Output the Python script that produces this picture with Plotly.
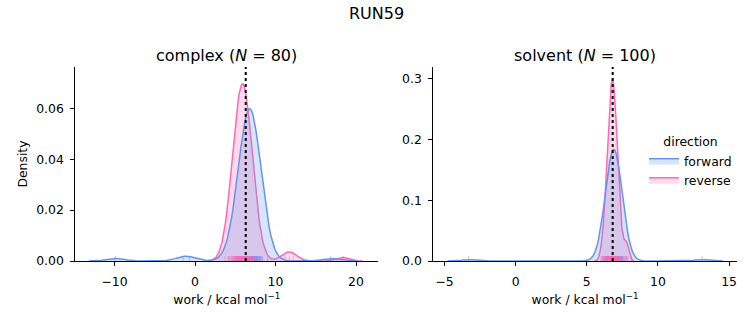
import numpy as np
import plotly.graph_objects as go

# ---------------- data (work values in kcal/mol, with multiplicities) ----------------
complex_forward_work = [-9.9, -1.5, -0.7, 4.2, 5.0, 5.2, 5.4, 5.6, 5.8, 6.0, 6.2, 6.4, 6.6,
                        6.8, 7.0, 7.2, 7.4, 7.6, 7.8, 8.0, 8.2, 8.4, 9.0, 16.8]
complex_forward_count = [1, 1, 1, 1, 1, 1, 2, 3, 4, 5, 6, 6, 7,
                         6, 6, 6, 6, 5, 4, 3, 2, 1, 1, 1]

complex_reverse_work = [3.7, 4.1, 4.3, 4.5, 4.7, 4.9, 5.1, 5.3, 5.5, 5.7, 5.9, 6.1, 6.3,
                        6.5, 6.7, 6.9, 7.1, 7.3, 7.5, 7.7, 8.1, 11.2, 11.7, 12.2, 18.4]
complex_reverse_count = [1, 1, 1, 2, 3, 4, 5, 5, 6, 6, 8, 6, 6,
                         5, 5, 4, 3, 2, 1, 1, 1, 1, 1, 1, 1]

solvent_forward_work = [-3.3, 6.1, 6.2, 6.3, 6.4, 6.5, 6.6, 6.7, 6.8, 6.9, 7.0, 7.1, 7.2,
                        7.3, 7.4, 7.5, 7.6, 7.7, 13.1]
solvent_forward_count = [1, 1, 1, 2, 4, 6, 8, 10, 11, 12, 11, 10, 8,
                         6, 4, 2, 1, 1, 1]

solvent_reverse_work = [6.0, 6.1, 6.2, 6.3, 6.4, 6.5, 6.6, 6.7, 6.8, 6.9, 7.0, 7.1, 7.2,
                        7.3, 7.4, 7.5, 7.6, 7.7, 7.8, 7.9]
solvent_reverse_count = [1, 1, 2, 4, 5, 8, 10, 11, 12, 11, 10, 8, 5,
                         4, 2, 1, 1, 1, 2, 1]

phase_names = ["complex", "solvent"]
phase_n = [80, 100]
phase_dg = [6.3, 6.82]          # free-energy estimate (dotted line)
direction_names = ["forward", "reverse"]
suptitle = "RUN59"

x_ticks = [[-10, 0, 10, 20], [-5, 0, 5, 10, 15]]
y_ticks = [[0.0, 0.02, 0.04, 0.06], [0.0, 0.1, 0.2, 0.3]]
y_tickformat = [".2f", ".1f"]
x_range = [[-14.87, 22.77], [-5.79, 15.54]]
y_range = [[0, 0.0763], [0, 0.319]]

# ---------------- helpers ----------------
line_colors = {"forward": "rgb(100,149,237)", "reverse": "rgb(255,105,180)"}
fill_colors = {"forward": "rgba(100,149,237,0.25)", "reverse": "rgba(255,105,180,0.25)"}
rug_colors = {"forward": "rgba(100,149,237,0.55)", "reverse": "rgba(255,105,180,0.55)"}

data = {
    ("complex", "forward"): (complex_forward_work, complex_forward_count),
    ("complex", "reverse"): (complex_reverse_work, complex_reverse_count),
    ("solvent", "forward"): (solvent_forward_work, solvent_forward_count),
    ("solvent", "reverse"): (solvent_reverse_work, solvent_reverse_count),
}
n_total = sum(sum(c) for _, c in data.values())


def kde_curve(work, count, gridsize=200, cut=3):
    s = np.repeat(np.asarray(work, float), count)
    bw = s.std(ddof=1) * len(s) ** (-1 / 5)
    grid = np.linspace(s.min() - cut * bw, s.max() + cut * bw, gridsize)
    z = (grid[:, None] - s[None, :]) / bw
    dens = np.exp(-0.5 * z ** 2).sum(axis=1) / (bw * np.sqrt(2 * np.pi)) / n_total
    return grid, dens, s


FONT = "DejaVu Sans"
TICK_SIZE = 12.4
TITLE_SIZE = 16
fig = go.Figure()

for i, phase in enumerate(phase_names):
    xa = "x" if i == 0 else "x2"
    ya = "y" if i == 0 else "y2"
    rug_h = 0.025 * y_range[i][1]
    curves = {}
    for d in direction_names:
        curves[d] = kde_curve(*data[(phase, d)])
    # seaborn draws hue levels in reverse order
    for d in reversed(direction_names):
        g, dens, _ = curves[d]
        fig.add_trace(go.Scatter(
            x=g, y=dens, mode="lines", fill="tozeroy",
            line=dict(color=line_colors[d], width=1.5),
            fillcolor=fill_colors[d], name=d, legendgroup=d,
            showlegend=(i == 1), legendrank=direction_names.index(d),
            xaxis=xa, yaxis=ya, hoverinfo="skip"))
    for d in direction_names:
        _, _, s = curves[d]
        rx, ry = [], []
        for v in s:
            rx += [v, v, None]
            ry += [0, rug_h, None]
        fig.add_trace(go.Scatter(
            x=rx, y=ry, mode="lines", line=dict(color=rug_colors[d], width=1),
            showlegend=False, xaxis=xa, yaxis=ya, hoverinfo="skip", cliponaxis=False))
    fig.add_shape(type="line", xref=xa, yref=f"{ya} domain", x0=phase_dg[i], x1=phase_dg[i],
                  y0=0, y1=1, line=dict(color="black", width=2, dash="dot"), layer="above")
    fig.add_annotation(text=f"{phase} (<i>N</i> = {phase_n[i]})", xref=f"{xa} domain", x=0.5,
                       yref="paper", y=1 - 55 / 325, yanchor="middle", showarrow=False,
                       font=dict(family=FONT, size=TITLE_SIZE, color="black"))

axis_common = dict(showline=True, linecolor="black", linewidth=1, ticks="outside", ticklen=4,
                   tickwidth=1, tickcolor="black", showgrid=False, zeroline=False,
                   automargin=False,
                   tickfont=dict(family=FONT, size=TICK_SIZE, color="black"))
y_dom = [64 / 325, 258 / 325]
x_doms = [[75.3 / 753, 378.3 / 753], [433.3 / 753, 736.7 / 753]]
xlabel = "work / kcal mol<sup>−1</sup>"
xlabel_font = dict(family=FONT, size=TICK_SIZE, color="black")

fig.update_layout(
    width=753, height=325, margin=dict(l=0, r=0, t=0, b=0, autoexpand=False),
    plot_bgcolor="white", paper_bgcolor="white",
    font=dict(family=FONT, size=TICK_SIZE, color="black"),
    title=dict(text=suptitle, x=0.5, xanchor="center", y=1 - 13 / 325, yanchor="middle",
               font=dict(family=FONT, size=TITLE_SIZE, color="black")),
    xaxis=dict(domain=x_doms[0], anchor="y", range=x_range[0], tickvals=x_ticks[0],
               ticklabelstandoff=5,
               title=dict(text=xlabel, standoff=7, font=xlabel_font), **axis_common),
    yaxis=dict(domain=y_dom, anchor="x", range=y_range[0], tickvals=y_ticks[0],
               tickformat=y_tickformat[0], ticklabelstandoff=4,
               title=dict(text="Density", standoff=5, font=xlabel_font), **axis_common),
    xaxis2=dict(domain=x_doms[1], anchor="y2", range=x_range[1], tickvals=x_ticks[1],
                ticklabelstandoff=5,
                title=dict(text=xlabel, standoff=7, font=xlabel_font), **axis_common),
    yaxis2=dict(domain=y_dom, anchor="x2", range=y_range[1], tickvals=y_ticks[1],
                tickformat=y_tickformat[1], ticklabelstandoff=4, **axis_common),
    legend=dict(x=644 / 753, xanchor="left", y=1 - 130 / 325, yanchor="top",
                bgcolor="rgba(0,0,0,0)", font=dict(family=FONT, size=TICK_SIZE, color="black"),
                title=dict(text="direction", side="top center",
                           font=dict(family=FONT, size=TICK_SIZE, color="black")),
                traceorder="normal"),
    showlegend=True,
)

fig.write_html("out.html")
